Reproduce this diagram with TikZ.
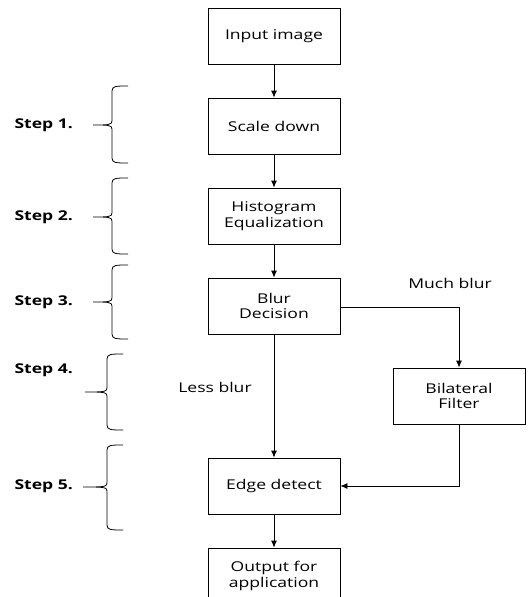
\documentclass[tikz,border=0pt]{standalone}
\usepackage{fontspec}
\setmainfont{Open Sans}[FakeStretch=1.3]
\usetikzlibrary{arrows.meta}
\begin{document}
\begin{tikzpicture}[x=1pt,y=-1pt,
  box/.style={draw,line width=0.8pt,minimum width=132pt,minimum height=56pt,align=center,inner sep=2pt,font=\fontsize{13.5}{15.5}\selectfont},
  lbl/.style={font=\fontsize{13.5}{15}\selectfont},
  steplbl/.style={font=\bfseries\fontsize{13.5}{15}\selectfont,anchor=west},
  conn/.style={line width=0.8pt,-{Latex[length=7pt,width=6pt]}},
  brace/.style={line width=0.8pt}]
\useasboundingbox (0,0) rectangle (530,597);
\clip (0,0) rectangle (530,597);
\node[box] (in) at (274,36) {Input image};
\node[box] (sd) at (274,126) {Scale down};
\node[box] (he) at (274,216) {Histogram\\Equalization};
\node[box] (bd) at (274,306) {Blur\\Decision};
\node[box] (bf) at (459,396) {Bilateral\\Filter};
\node[box] (ed) at (274,486) {Edge detect};
\node[box] (out) at (274,576) {Output for\\application};
\draw[conn] (in) -- (sd);
\draw[conn] (sd) -- (he);
\draw[conn] (he) -- (bd);
\draw[conn] (bd) -- (ed);
\draw[conn] (ed) -- (out);
\draw[conn] (bd.east |- 0,307) -| (bf.north);
\draw[conn] (bf.south) |- (ed.east);
\node[lbl] (much) at (450,283) {Much blur};
\node[lbl] (less) at (215,387) {Less blur};
\foreach \n/\t/\b/\m/\lx/\ly/\vx/\tx in {1/86/163/125/11/125/112/93, 2/178/254/217/11/217/112/93, 3/265/339/302/11/302/112/93, 4/354/430/392/11/370/107/85, 5/445/530/487/11/486/107/83}{
  \node[steplbl] (s\n) at (\lx,\ly) {Step \n.};
  \draw[brace] (\vx+16,\t) .. controls (\vx+4,\t) and (\vx,\t) .. (\vx,\t+5) -- (\vx,\m-4) .. controls (\vx,\m) and (\vx-4,\m) .. (\tx,\m) .. controls (\vx-4,\m) and (\vx,\m) .. (\vx,\m+4) -- (\vx,\b-5) .. controls (\vx,\b) and (\vx+4,\b) .. (\vx+16,\b);
}
\end{tikzpicture}
\end{document}
